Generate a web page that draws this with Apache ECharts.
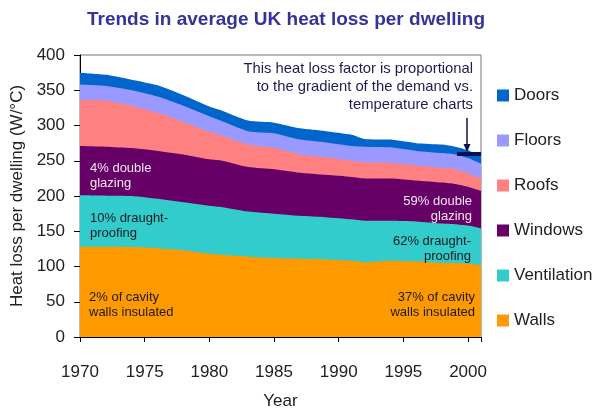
<!DOCTYPE html>
<html>
<head>
<meta charset="utf-8">
<script src="https://cdn.jsdelivr.net/npm/echarts@6/dist/echarts.min.js"></script>
<style>
  html, body { margin: 0; padding: 0; background: #fff; }
  #chart { width: 598px; height: 415px; }
</style>
</head>
<body>
<div id="chart"></div>
<script>
// Average UK heat loss per dwelling (W/°C) by building element
const years       = [1970, 1972, 1974, 1976, 1978, 1980, 1981, 1983, 1985, 1987, 1989, 1991, 1992, 1994, 1996, 1998, 1999, 2000, 2001];
const walls       = [128, 128, 127.5, 126, 123, 118, 116.5, 114, 112, 111, 110, 108, 106, 108, 107, 105, 105, 104, 102];
const ventilation = [73, 72.5, 72.5, 70, 68, 68, 67.5, 64, 63, 61, 60, 59, 59, 57, 57, 56, 55, 54, 52];
const windows     = [70, 69.5, 68, 68, 68, 66, 66, 63, 63, 61, 60, 60, 60, 60, 58, 58, 57, 55, 53];
const roofs       = [65, 65, 60, 54, 46, 39, 35, 32, 30, 26, 25, 23, 23, 22, 21, 21, 21, 19, 18];
const floors      = [22, 21, 22, 23, 23, 22, 21, 19, 21, 21, 21, 21, 22, 22, 21, 21, 21, 22, 21];
const doors       = [17, 16, 15, 16, 15, 14, 15, 15, 15, 16, 16, 16, 11, 11, 11, 12, 11, 11, 10];

const yearTicks = [1970, 1975, 1980, 1985, 1990, 1995, 2000];

const FONT = '"Liberation Sans", Arial, sans-serif';

// Bottom-to-top stacking order
const layers = [
  { name: 'Walls',       data: walls,       color: '#FF9900' },
  { name: 'Ventilation', data: ventilation, color: '#33CCCC' },
  { name: 'Windows',     data: windows,     color: '#660066' },
  { name: 'Roofs',       data: roofs,       color: '#FF8080' },
  { name: 'Floors',      data: floors,      color: '#9999FF' },
  { name: 'Doors',       data: doors,       color: '#0066CC' }
];

// Running totals: each layer is drawn as a filled band reaching down to zero,
// the upper (larger) totals painted first so the lower layers sit on top.
const running = years.map(() => 0);
const cumulative = layers.map(l => {
  const top = l.data.map((v, i) => (running[i] += v));
  return { name: l.name, color: l.color, top: top.slice() };
});

const series = cumulative.slice().reverse().map(c => ({
  name: c.name,
  type: 'line',
  smooth: 0.2,
  showSymbol: false,
  symbol: 'none',
  lineStyle: { width: 0 },
  itemStyle: { color: c.color },
  areaStyle: { color: c.color, opacity: 1, origin: 'start' },
  data: years.map((y, i) => [y, c.top[i]])
}));

const chart = echarts.init(document.getElementById('chart'), null, { renderer: 'canvas' });

function note(x, y, text, fill, align) {
  return {
    type: 'text', x: x, y: y, z: 100,
    style: {
      text: text, fill: fill, font: '13px ' + FONT,
      align: align || 'left', verticalAlign: 'middle', lineHeight: 15
    }
  };
}

chart.setOption({
  animation: false,
  backgroundColor: '#fff',
  textStyle: { fontFamily: FONT },
  title: {
    text: 'Trends in average UK heat loss per dwelling',
    left: 281, top: 5, textAlign: 'center',
    textStyle: { fontFamily: FONT, fontSize: 19, fontWeight: 'bold', color: '#333399' }
  },
  grid: {
    left: 80, right: 117, top: 55, bottom: 72,
    show: true, borderColor: '#777', borderWidth: 1, backgroundColor: 'transparent'
  },
  legend: {
    orient: 'vertical', left: 497, top: 87, padding: 0,
    itemWidth: 12, itemHeight: 12, itemGap: 28,
    icon: 'rect',
    data: ['Doors', 'Floors', 'Roofs', 'Windows', 'Ventilation', 'Walls'],
    textStyle: { fontFamily: FONT, fontSize: 17, color: '#222', lineHeight: 17 }
  },
  xAxis: {
    type: 'value', min: 1970, max: 2001, interval: 5,
    name: 'Year', nameLocation: 'middle', nameGap: 56,
    nameTextStyle: { fontFamily: FONT, fontSize: 17, color: '#222' },
    axisLine: { show: true, lineStyle: { color: '#000', width: 1 } },
    axisTick: { show: true, length: 5, lineStyle: { color: '#000' } },
    axisLabel: {
      fontFamily: FONT, fontSize: 17, color: '#222', margin: 27,
      formatter: v => (yearTicks.indexOf(v) >= 0 ? String(v) : '')
    },
    splitLine: { show: false }
  },
  yAxis: {
    type: 'value', min: 0, max: 400, interval: 50,
    name: 'Heat loss per dwelling (W/°C)', nameLocation: 'middle', nameGap: 47,
    nameTextStyle: { fontFamily: FONT, fontSize: 17, color: '#222' },
    axisLine: { show: true, lineStyle: { color: '#000', width: 1 } },
    axisTick: { show: true, length: 6, lineStyle: { color: '#000' } },
    axisLabel: { fontFamily: FONT, fontSize: 17, color: '#222', margin: 15 },
    splitLine: { show: false }
  },
  series: series,
  graphic: [
    {
      type: 'text', x: 473, y: 87, z: 100,
      style: {
        text: 'This heat loss factor is proportional\nto the gradient of the demand vs.\ntemperature charts',
        fill: '#1c1c50', font: '14.8px ' + FONT, align: 'right', verticalAlign: 'middle', lineHeight: 18
      }
    },
    { type: 'line', z: 100, shape: { x1: 467, y1: 118, x2: 467, y2: 145 }, style: { stroke: '#10104a', lineWidth: 1.5 } },
    { type: 'polygon', z: 100, shape: { points: [[463.5, 144], [470.5, 144], [467, 152]] }, style: { fill: '#10104a' } },
    { type: 'rect', z: 100, shape: { x: 457, y: 152, width: 24, height: 4 }, style: { fill: '#10104a' } },
    note(90, 176, '4% double\nglazing', '#f2e6f2'),
    note(90, 226, '10% draught-\nproofing', '#1a1a1a'),
    note(89, 305, '2% of cavity\nwalls insulated', '#1a1a1a'),
    note(472, 209, '59% double\nglazing', '#f2e6f2', 'right'),
    note(471, 249, '62% draught-\nproofing', '#1a1a1a', 'right'),
    note(475, 305, '37% of cavity\nwalls insulated', '#1a1a1a', 'right')
  ]
});
</script>
</body>
</html>
